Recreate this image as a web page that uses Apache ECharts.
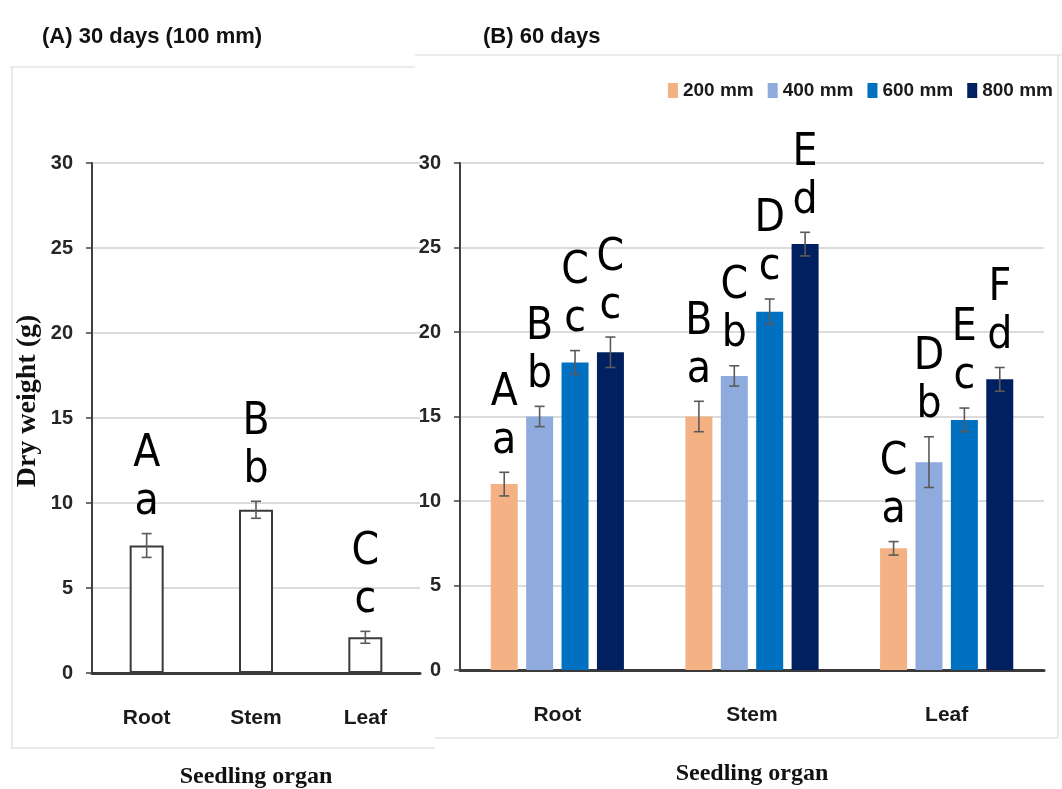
<!DOCTYPE html>
<html>
<head>
<meta charset="utf-8">
<script src="https://cdn.jsdelivr.net/npm/echarts@6/dist/echarts.min.js"></script>
<style>
html,body{margin:0;padding:0;background:#fff;}
#chart{width:1062px;height:789px;}
</style>
</head>
<body>
<div id="chart"></div>
<script>
// ---------- data ----------
const categories = ['Root', 'Stem', 'Leaf'];
const seriesNames = ['200 mm', '400 mm', '600 mm', '800 mm'];

// Panel A: 30 days (100 mm)
const a30Values = [7.5, 9.6, 2.1];
const a30Errors = [0.7, 0.5, 0.35];
const a30Upper = ['A', 'B', 'C'];
const a30Lower = ['a', 'b', 'c'];

// Panel B: 60 days
const v200 = [11.0, 15.0, 7.2];
const v400 = [15.0, 17.4, 12.3];
const v600 = [18.2, 21.2, 14.8];
const v800 = [18.8, 25.2, 17.2];
const e200 = [0.7, 0.9, 0.4];
const e400 = [0.6, 0.6, 1.5];
const e600 = [0.7, 0.75, 0.7];
const e800 = [0.9, 0.7, 0.7];
const u200 = ['A', 'B', 'C'];
const u400 = ['B', 'C', 'D'];
const u600 = ['C', 'D', 'E'];
const u800 = ['C', 'E', 'F'];
const l200 = ['a', 'a', 'a'];
const l400 = ['b', 'b', 'b'];
const l600 = ['c', 'c', 'c'];
const l800 = ['c', 'd', 'd'];

// ---------- styling ----------
const SANS = '"Liberation Sans", Arial, sans-serif';
const COND = '"DejaVu Sans Condensed", "Liberation Sans", sans-serif';
const SERIF = '"Liberation Serif", "Times New Roman", serif';
const colors = ['#F4B183', '#8FAADC', '#0070C0', '#002060'];
const B_BAR_W = 27;
const B_GAP = 8.4;
const LETTER_FONT = '44px ' + COND;

const bVals = [v200, v400, v600, v800];
const bErrs = [e200, e400, e600, e800];
const bUp = [u200, u400, u600, u800];
const bLow = [l200, l400, l600, l800];

function errRenderer(offset, uppers, lowers) {
  return function (params, api) {
    const i = api.value(0), v = api.value(1), e = api.value(2);
    const c = api.coord([i, v]);
    const x = c[0] + offset;
    const yt = api.coord([i, v + e])[1];
    const yb = api.coord([i, v - e])[1];
    const ls = { stroke: '#5a5a5a', lineWidth: 1.6 };
    const lowY = yt - 31;
    const upY = lowY - 48;
    return {
      type: 'group',
      children: [
        { type: 'line', shape: { x1: x, y1: yt, x2: x, y2: yb }, style: ls },
        { type: 'line', shape: { x1: x - 5, y1: yt, x2: x + 5, y2: yt }, style: ls },
        { type: 'line', shape: { x1: x - 5, y1: yb, x2: x + 5, y2: yb }, style: ls },
        { type: 'text', style: { x: x, y: lowY, text: lowers[params.dataIndex], font: LETTER_FONT, fill: '#000', align: 'center', verticalAlign: 'middle' } },
        { type: 'text', style: { x: x, y: upY, text: uppers[params.dataIndex], font: LETTER_FONT, fill: '#000', align: 'center', verticalAlign: 'middle' } }
      ]
    };
  };
}

const axisLabelStyle = { color: '#262626', fontFamily: SANS, fontWeight: 'bold', fontSize: 20, margin: 19 };
const catLabelStyle = { color: '#1a1a1a', fontFamily: SANS, fontWeight: 'bold', fontSize: 21, margin: 35 };
const xNameStyle = { color: '#111', fontFamily: SERIF, fontWeight: 'bold', fontSize: 24 };
const yNameStyle = { color: '#111', fontFamily: SERIF, fontWeight: 'bold', fontSize: 28, padding: [0, 0, 0, 34] };

const series = [];
// Panel A bars
series.push({
  type: 'bar', xAxisIndex: 0, yAxisIndex: 0, barWidth: 34,
  data: a30Values,
  itemStyle: { color: '#fff', borderColor: '#3a3a3a', borderWidth: 2 },
  silent: true, z: 2
});
series.push({
  type: 'custom', xAxisIndex: 0, yAxisIndex: 0, z: 5,
  data: categories.map((c, i) => [i, a30Values[i], a30Errors[i]]),
  renderItem: errRenderer(0, a30Upper, a30Lower)
});
// Panel B bars
for (let s = 0; s < 4; s++) {
  series.push({
    name: seriesNames[s], type: 'bar', xAxisIndex: 1, yAxisIndex: 1,
    barWidth: B_BAR_W, barGap: (B_GAP / B_BAR_W * 100).toFixed(1) + '%',
    data: bVals[s], itemStyle: { color: colors[s] }, z: 2
  });
}
for (let s = 0; s < 4; s++) {
  const offset = (s - 1.5) * (B_BAR_W + B_GAP);
  series.push({
    type: 'custom', xAxisIndex: 1, yAxisIndex: 1, z: 5,
    data: categories.map((c, i) => [i, bVals[s][i], bErrs[s][i]]),
    renderItem: errRenderer(offset, bUp[s], bLow[s])
  });
}

const yAxisCommon = {
  type: 'value', min: 0, max: 30, interval: 5,
  axisLine: { show: true, lineStyle: { color: '#404040', width: 2 } },
  axisTick: { show: true, length: 6, lineStyle: { color: '#404040', width: 1.5 } },
  splitLine: { lineStyle: { color: '#dcdcdc', width: 2 } },
  axisLabel: axisLabelStyle
};
const xAxisCommon = {
  type: 'category', data: categories,
  axisLine: { lineStyle: { color: '#3a3a3a', width: 3 } },
  axisTick: { show: false },
  axisLabel: catLabelStyle,
  name: 'Seedling organ', nameLocation: 'middle', nameGap: 92, nameTextStyle: xNameStyle
};

const panelLine = { stroke: '#e4e4e4', lineWidth: 1.5 };

const option = {
  backgroundColor: '#fff',
  animation: false,
  title: [
    { text: '(A) 30 days (100 mm)', left: 37, top: 21, textStyle: { fontFamily: SANS, fontWeight: 'bold', fontSize: 22, color: '#111' } },
    { text: '(B) 60 days', left: 478, top: 21, textStyle: { fontFamily: SANS, fontWeight: 'bold', fontSize: 22, color: '#111' } }
  ],
  legend: {
    data: seriesNames, right: 4, top: 76, icon: 'rect', itemWidth: 10, itemHeight: 15, itemGap: 14,
    textStyle: { fontFamily: SANS, fontWeight: 'bold', fontSize: 19, color: '#1a1a1a' }
  },
  grid: [
    { left: 92, top: 163, width: 328, height: 510, outerBoundsMode: 'none', containLabel: false },
    { left: 460, top: 163, width: 584, height: 507, outerBoundsMode: 'none', containLabel: false }
  ],
  xAxis: [
    Object.assign({ gridIndex: 0 }, xAxisCommon),
    Object.assign({ gridIndex: 1 }, xAxisCommon)
  ],
  yAxis: [
    Object.assign({ gridIndex: 0, name: 'Dry weight (g)', nameLocation: 'middle', nameGap: 50, nameRotate: 90, nameTextStyle: yNameStyle }, yAxisCommon),
    Object.assign({ gridIndex: 1 }, yAxisCommon)
  ],
  graphic: [
    { type: 'line', shape: { x1: 10, y1: 67, x2: 415, y2: 67 }, style: panelLine, silent: true },
    { type: 'line', shape: { x1: 12, y1: 67, x2: 12, y2: 748 }, style: panelLine, silent: true },
    { type: 'line', shape: { x1: 10, y1: 748, x2: 435, y2: 748 }, style: panelLine, silent: true },
    { type: 'line', shape: { x1: 415, y1: 55, x2: 1062, y2: 55 }, style: panelLine, silent: true },
    { type: 'line', shape: { x1: 1058, y1: 55, x2: 1058, y2: 738 }, style: panelLine, silent: true },
    { type: 'line', shape: { x1: 435, y1: 738, x2: 1058, y2: 738 }, style: panelLine, silent: true }
  ],
  series: series
};

const chart = echarts.init(document.getElementById('chart'), null, { renderer: 'canvas' });
chart.setOption(option);
</script>
</body>
</html>
